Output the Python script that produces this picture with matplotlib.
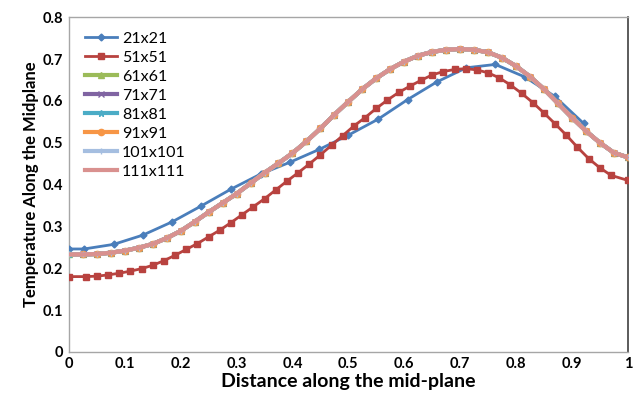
import matplotlib
matplotlib.use("Agg")
import matplotlib.pyplot as plt

plt.rcParams["font.family"] = ["Lato", "DejaVu Sans"]

# 21x21 grid
X_21 = [0.0, 0.027, 0.080, 0.132, 0.185, 0.237, 0.290, 0.343, 0.395, 0.448,
        0.500, 0.553, 0.606, 0.658, 0.711, 0.763, 0.816, 0.869, 0.921]
Y_21 = [0.246, 0.246, 0.257, 0.279, 0.311, 0.349, 0.389, 0.425, 0.453, 0.484,
        0.518, 0.556, 0.603, 0.645, 0.679, 0.687, 0.657, 0.611, 0.546]

# 51x51 grid
X_51 = [0.0, 0.03, 0.05, 0.07, 0.09, 0.11, 0.13, 0.15, 0.17, 0.19,
        0.21, 0.23, 0.25, 0.27, 0.29, 0.31, 0.33, 0.35, 0.37, 0.39,
        0.41, 0.43, 0.45, 0.47, 0.49, 0.51, 0.53, 0.55, 0.57, 0.59,
        0.61, 0.63, 0.65, 0.67, 0.69, 0.71, 0.73, 0.75, 0.77, 0.79,
        0.81, 0.83, 0.85, 0.87, 0.89, 0.91, 0.93, 0.95, 0.97, 1.0]
Y_51 = [0.180, 0.180, 0.181, 0.184, 0.188, 0.193, 0.199, 0.207, 0.218, 0.231,
        0.245, 0.259, 0.275, 0.291, 0.309, 0.328, 0.347, 0.366, 0.387, 0.408,
        0.428, 0.449, 0.471, 0.494, 0.517, 0.540, 0.560, 0.582, 0.602, 0.620,
        0.635, 0.649, 0.662, 0.670, 0.675, 0.677, 0.674, 0.667, 0.655, 0.638,
        0.618, 0.596, 0.571, 0.545, 0.518, 0.489, 0.462, 0.440, 0.422, 0.410]

# finer grids (61x61 .. 111x111) sit on top of each other in the picture
X_FINE = [0.0, 0.025, 0.05, 0.075, 0.1, 0.125, 0.15, 0.175, 0.2, 0.225,
          0.25, 0.275, 0.3, 0.325, 0.35, 0.375, 0.4, 0.425, 0.45, 0.475,
          0.5, 0.525, 0.55, 0.575, 0.6, 0.625, 0.65, 0.675, 0.7, 0.725,
          0.75, 0.775, 0.8, 0.825, 0.85, 0.875, 0.9, 0.925, 0.95, 0.975, 1.0]
Y_FINE = [0.233, 0.233, 0.234, 0.237, 0.242, 0.249, 0.258, 0.272, 0.289, 0.311,
          0.334, 0.356, 0.378, 0.403, 0.428, 0.451, 0.475, 0.503, 0.534, 0.567,
          0.598, 0.628, 0.654, 0.676, 0.694, 0.708, 0.717, 0.722, 0.724, 0.722,
          0.716, 0.703, 0.683, 0.658, 0.628, 0.594, 0.560, 0.528, 0.500, 0.476,
          0.465]

FINE_LABELS = ["61x61", "71x71", "81x81", "91x91", "101x101", "111x111"]
FINE_COLORS = ["#9BBB59", "#8064A2", "#4BACC6", "#F79646", "#A5BEE0", "#D9918F"]
FINE_MARKERS = ["^", "x", "*", "o", "+", "_"]

X_TICKS = [0, 0.1, 0.2, 0.3, 0.4, 0.5, 0.6, 0.7, 0.8, 0.9, 1]
X_TICK_LABELS = ["0", "0.1", "0.2", "0.3", "0.4", "0.5", "0.6", "0.7", "0.8", "0.9", "1"]
Y_TICKS = [0, 0.1, 0.2, 0.3, 0.4, 0.5, 0.6, 0.7, 0.8]
Y_TICK_LABELS = ["0", "0.1", "0.2", "0.3", "0.4", "0.5", "0.6", "0.7", "0.8"]


def main() -> None:
    fig = plt.figure(figsize=(6.38, 3.99), dpi=100)
    ax = fig.add_axes([0.108, 0.118, 0.876, 0.839])

    ax.plot(X_21, Y_21, color="#4A7EBB", lw=2.0, marker="D", ms=3.5, label="21x21", zorder=3)
    ax.plot(X_51, Y_51, color="#B8423F", lw=2.0, marker="s", ms=5, label="51x51", zorder=4)
    for i, (lab, col, mk) in enumerate(zip(FINE_LABELS, FINE_COLORS, FINE_MARKERS)):
        ax.plot(X_FINE, Y_FINE, color=col, lw=3.0, marker=mk, ms=4.5, mew=1.0,
                markevery=(i % 2, 1), label=lab, zorder=5 + i)

    ax.set_xlim(0, 1)
    ax.set_ylim(0, 0.8)
    ax.set_xticks(X_TICKS)
    ax.set_xticklabels(X_TICK_LABELS)
    ax.set_yticks(Y_TICKS)
    ax.set_yticklabels(Y_TICK_LABELS)
    ax.tick_params(length=0, labelsize=10.5, pad=4)
    for t in ax.get_xticklabels() + ax.get_yticklabels():
        t.set_fontweight("bold")

    for side in ["left", "bottom", "top"]:
        ax.spines[side].set_color("#A6A6A6")
        ax.spines[side].set_linewidth(1.0)
    ax.spines["right"].set_color("#404040")
    ax.spines["right"].set_linewidth(1.2)

    ax.set_xlabel("Distance along the mid-plane", fontsize=14, fontweight="bold", labelpad=1)
    ax.set_ylabel("Temperature Along the Midplane", fontsize=12, fontweight="bold", labelpad=3)

    ax.legend(loc="upper left", bbox_to_anchor=(0.012, 0.985), frameon=False, fontsize=11.5,
              handlelength=2.0, handletextpad=0.3, labelspacing=0.3, borderaxespad=0.2)

    fig.savefig("out.png", dpi=100)
    plt.close(fig)


if __name__ == "__main__":
    main()
